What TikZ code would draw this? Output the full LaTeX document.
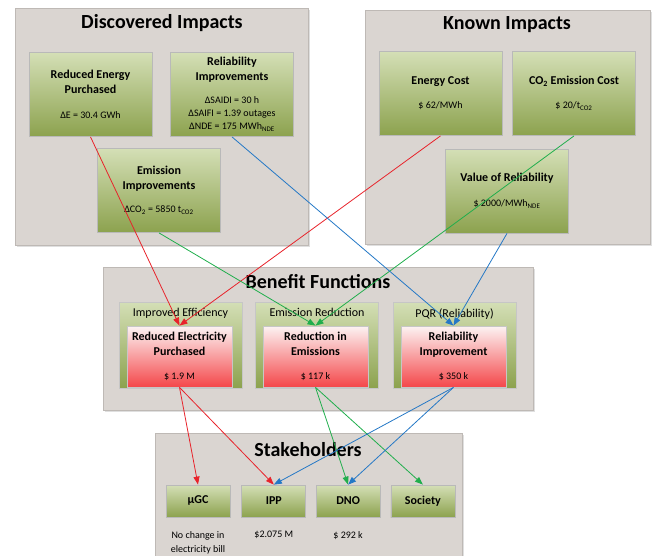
\documentclass[tikz,border=0pt]{standalone}
\usepackage{fontspec}
\setmainfont{Carlito}
\usetikzlibrary{positioning,shadows,arrows.meta}

\definecolor{panelgray}{HTML}{DAD5D1}
\definecolor{panelline}{HTML}{BEB9B5}
\definecolor{greentop}{HTML}{D4DFB6}
\definecolor{greenbot}{HTML}{8CA24E}
\definecolor{redtop}{HTML}{FCF3F3}
\definecolor{redbot}{HTML}{F4474A}
\definecolor{arrred}{HTML}{E8232B}
\definecolor{arrgreen}{HTML}{20AE4C}
\definecolor{arrblue}{HTML}{2478C6}

\newcommand{\valtext}[1]{{\fontsize{10}{12}\selectfont\mdseries #1}}

\tikzset{
  panel/.style={draw=panelline, fill=panelgray, inner sep=0pt,
    drop shadow={opacity=0.25, shadow xshift=1.5pt, shadow yshift=-1.5pt}},
  paneltitle/.style={font=\fontsize{20}{24}\selectfont\bfseries},
  impact/.style={draw=gray!55, top color=greentop, bottom color=greenbot,
    minimum width=123pt, minimum height=84pt, align=center,
    font=\fontsize{12}{15}\selectfont\bfseries},
  benefit/.style={draw=gray!45, top color=greentop, bottom color=greenbot,
    minimum width=123pt, minimum height=86pt},
  outcome/.style={draw=gray!45, top color=redtop, bottom color=redbot,
    minimum width=105pt, minimum height=61pt, align=center,
    font=\fontsize{12}{15}\selectfont\bfseries},
  holder/.style={draw=gray!55, top color=greentop, bottom color=greenbot,
    minimum width=64pt, minimum height=32pt,
    font=\fontsize{12}{15}\selectfont\bfseries},
  note/.style={font=\fontsize{10}{14}\selectfont, align=center}
}

\begin{document}
\begin{tikzpicture}[x=1pt,y=-1pt,line width=0.8pt,
    >={Triangle[length=8pt,width=6pt]}]

\useasboundingbox (0,0) rectangle (654,555);

% panels
\node[panel, minimum width=293pt, minimum height=237pt] (discovered) at (161.5,126.5) {};
\node[panel, minimum width=285pt, minimum height=234pt] (known) at (507.5,127) {};
\node[panel, minimum width=430pt, minimum height=143pt] (benefits) at (318,338.5) {};
\node[panel, minimum width=307pt, minimum height=127pt] (stakeholders) at (308.5,496.5) {};

\node[paneltitle] (tdisc) at (162,23) {Discovered Impacts};
\node[paneltitle] (tknown) at (507,25) {Known Impacts};
\node[paneltitle] (tbene) at (318,282) {Benefit Functions};
\node[paneltitle] (tstake) at (308,450) {Stakeholders};

% discovered impacts
\node[impact] (energy) at (90.5,94.5)
  {Reduced Energy\\Purchased\\[10pt]\valtext{ΔE = 30.4 GWh}};
\node[impact] (reliab) at (232,94.5)
  {Reliability\\Improvements\\[8pt]\valtext{ΔSAIDI = 30 h}\\[-2pt]
   \valtext{ΔSAIFI = 1.39 outages}\\[-2pt]
   \valtext{ΔNDE = 175 MWh\textsubscript{NDE}}};
\node[impact] (emission) at (159,190.5)
  {Emission\\Improvements\\[8pt]\valtext{ΔCO\textsubscript{2} = 5850 t\textsubscript{CO2}}};

% known impacts
\node[impact] (ecost) at (440.5,93.5)
  {Energy Cost\\[9pt]\valtext{\$ 62/MWh}};
\node[impact] (co2cost) at (574,93.5)
  {CO\textsubscript{2} Emission Cost\\[9pt]\valtext{\$ 20/t\textsubscript{CO2}}};
\node[impact] (vor) at (507,191)
  {Value of Reliability\\[10pt]\valtext{\$ 2000/MWh\textsubscript{NDE}}};

% benefit functions
\node[benefit,
    label={[anchor=north, yshift=-3pt, font=\fontsize{12}{15}\selectfont]north:Improved Efficiency}
] (effic) at (180.5,345) {};
\node[benefit,
    label={[anchor=north, yshift=-3pt, font=\fontsize{12}{15}\selectfont]north:Emission Reduction}
] (emred) at (317,345) {};
\node[benefit,
    label={[anchor=north, yshift=-3pt, font=\fontsize{12}{15}\selectfont]north:PQR (Reliability)}
] (pqr) at (454.5,345) {};

\node[outcome] (elec) at (179.5,356.5)
  {Reduced Electricity\\Purchased\\[9pt]\valtext{\$ 1.9 M}};
\node[outcome] (redem) at (315.5,356.5)
  {Reduction in\\Emissions\\[9pt]\valtext{\$ 117 k}};
\node[outcome] (relimp) at (453.5,356.5)
  {Reliability\\Improvement\\[9pt]\valtext{\$ 350 k}};

% stakeholders
\node[holder] (ugc) at (198,501) {µGC};
\node[holder, right=11pt of ugc] (ipp) {IPP};
\node[holder, right=9.5pt of ipp] (dno) {DNO};
\node[holder, right=10pt of dno] (society) {Society};

\node[note, below=10pt of ugc.south, anchor=north] (nugc) {No change in\\electricity bill};
\node[note, below=10pt of ipp.south, anchor=north] (nipp) {\$2.075 M};
\node[note, below=10pt of dno.south, anchor=north] (ndno) {\$ 292 k};

% connectors
\draw[->, arrred] (energy.south) -- (elec.north);
\draw[->, arrred] (ecost.south) -- (elec.north);
\draw[->, arrgreen] (emission.south) -- (redem.north);
\draw[->, arrgreen] (co2cost.south) -- (redem.north);
\draw[->, arrblue] (reliab.south) -- (relimp.north);
\draw[->, arrblue] (vor.south) -- (relimp.north);

\draw[->, arrred] (elec.south) -- (ugc.north);
\draw[->, arrred] (elec.south) -- (ipp.north);
\draw[->, arrgreen] (redem.south) -- (dno.north);
\draw[->, arrgreen] (redem.south) -- (society.north);
\draw[->, arrblue] (relimp.south) -- (ipp.north);
\draw[->, arrblue] (relimp.south) -- (dno.north);

\end{tikzpicture}
\end{document}
